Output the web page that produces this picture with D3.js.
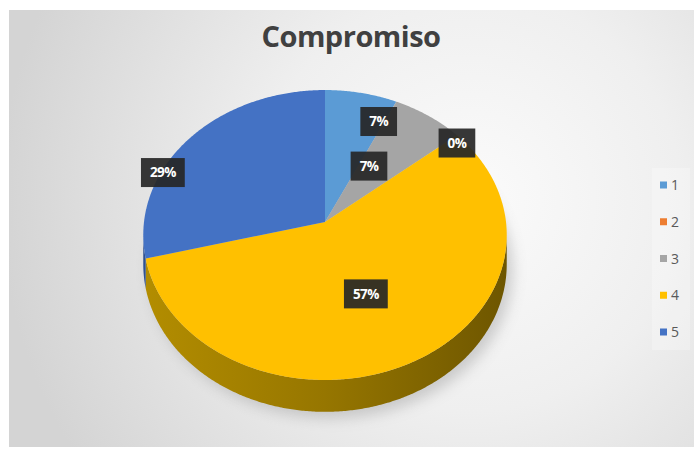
<!DOCTYPE html>
<html>
<head>
<meta charset="utf-8">
<script src="https://cdn.jsdelivr.net/npm/d3@7/dist/d3.min.js"></script>
<style>
  html, body { margin: 0; padding: 0; background: #ffffff; }
  svg { display: block; }
</style>
</head>
<body>
<svg id="chart" width="694" height="451"></svg>
<script>
// Survey answers for "Compromiso" (scale 1–5), as shares in percent
const categories = ["1", "2", "3", "4", "5"];
const values = [7, 0, 7, 57, 29];
const labels = ["7%", "0%", "7%", "57%", "29%"];
const colors = ["#5b9bd5", "#ed7d31", "#a5a5a5", "#ffc000", "#4472c4"];
const sideColors = ["#3f6f9c", "#b05a1e", "#7a7a7a", "#9a7700", "#2f5191"];

// Label placement: fraction of the radius, and angular nudge (degrees) from the slice middle
const labelRadius = [0.81, 0.96, 0.475, 0.525, 0.99];
const labelNudge = [10.4, 27.8, -5.8, 2.7, -16.8];

const svg = d3.select("#chart");
const W = 694, H = 451;
const defs = svg.append("defs");

// chart area background
const bg = defs.append("radialGradient").attr("id", "bg")
  .attr("gradientUnits", "userSpaceOnUse")
  .attr("cx", 470).attr("cy", 200).attr("r", 470);
bg.append("stop").attr("offset", "0%").attr("stop-color", "#fbfbfb");
bg.append("stop").attr("offset", "45%").attr("stop-color", "#efefef");
bg.append("stop").attr("offset", "100%").attr("stop-color", "#d4d4d4");

svg.append("rect").attr("x", 9).attr("y", 10).attr("width", W - 9).attr("height", 437)
  .attr("fill", "url(#bg)");

// title
svg.append("text")
  .attr("x", 351).attr("y", 47)
  .attr("text-anchor", "middle")
  .attr("font-family", "'Open Sans', sans-serif")
  .attr("font-weight", "700")
  .attr("font-size", 29)
  .attr("letter-spacing", -0.5)
  .attr("fill", "#404040")
  .text("Compromiso");

// tilted disc projection (slight perspective: near edge larger than far edge)
const cx = 325, cy = 222, R = 181, RY = 143.8, K = 0.0897, DEPTH = 29;
function proj(theta, r, drop) {
  const px = r * Math.sin(theta), pz = -r * Math.cos(theta);
  const s = 1 / (1 - K * pz);
  return [cx + R * px * s, cy + RY * pz * s + (drop || 0) * s];
}
function rimPoints(a0, a1, drop) {
  const n = Math.max(2, Math.ceil(Math.abs(a1 - a0) / (Math.PI / 360)));
  return d3.range(n + 1).map(i => proj(a0 + (a1 - a0) * i / n, 1, drop));
}
const line = d3.line();

const pie = d3.pie().sort(null).value(d => d)(values);

// drop shadow
const blur = defs.append("filter").attr("id", "soft").attr("x", "-20%").attr("y", "-20%")
  .attr("width", "140%").attr("height", "140%");
blur.append("feGaussianBlur").attr("stdDeviation", 7);
svg.append("path")
  .attr("d", line(rimPoints(0, 2 * Math.PI, DEPTH + 4)) + "Z")
  .attr("transform", "translate(6,2)")
  .attr("fill", "#9a9a9a").attr("opacity", 0.45)
  .attr("filter", "url(#soft)");

// side wall gradient for the front face
const sideGrad = defs.append("linearGradient").attr("id", "side")
  .attr("gradientUnits", "userSpaceOnUse")
  .attr("x1", cx - R).attr("x2", cx + R).attr("y1", 0).attr("y2", 0);
sideGrad.append("stop").attr("offset", "0%").attr("stop-color", "#b38d00");
sideGrad.append("stop").attr("offset", "50%").attr("stop-color", "#967600");
sideGrad.append("stop").attr("offset", "100%").attr("stop-color", "#6e5600");

// visible part of the wall lies between the horizontal extremes of the rim
const visStart = Math.acos(-K), visEnd = 2 * Math.PI - Math.acos(-K);
pie.forEach((d, i) => {
  if (d.value <= 0) return;
  const a0 = Math.max(d.startAngle, visStart), a1 = Math.min(d.endAngle, visEnd);
  if (a1 <= a0) return;
  const top = rimPoints(a0, a1, 0);
  const bottom = rimPoints(a1, a0, DEPTH);
  svg.append("path")
    .attr("d", line(top.concat(bottom)) + "Z")
    .attr("fill", i === 3 ? "url(#side)" : sideColors[i]);
});

// top faces
pie.forEach((d, i) => {
  if (d.value <= 0) return;
  const pts = [[cx, cy]].concat(rimPoints(d.startAngle, d.endAngle, 0));
  svg.append("path")
    .attr("d", line(pts) + "Z")
    .attr("fill", colors[i]);
});

// data labels
const lab = svg.append("g");
pie.forEach((d, i) => {
  const mid = (d.startAngle + d.endAngle) / 2 + labelNudge[i] * Math.PI / 180;
  const [x, y] = proj(mid, labelRadius[i], 0);
  const g = lab.append("g").attr("transform", `translate(${x},${y})`);
  const t = g.append("text")
    .attr("text-anchor", "middle").attr("dy", "0.36em")
    .attr("font-family", "'Open Sans', sans-serif")
    .attr("font-weight", "700").attr("font-size", 13.5)
    .attr("letter-spacing", -0.6)
    .attr("fill", "#ffffff")
    .text(labels[i]);
  const w = t.node().getComputedTextLength() + 18;
  g.insert("rect", "text")
    .attr("x", -w / 2).attr("y", -14.5).attr("width", w).attr("height", 29)
    .attr("fill", "#262626").attr("opacity", 0.92);
});

// legend
const legend = svg.append("g");
legend.append("rect").attr("x", 652).attr("y", 168).attr("width", 38).attr("height", 182)
  .attr("fill", "#ffffff").attr("opacity", 0.25);
const ly = d3.scalePoint().domain(categories).range([185, 332]);
categories.forEach((c, i) => {
  legend.append("rect")
    .attr("x", 660).attr("y", ly(c) - 3.5).attr("width", 7).attr("height", 7)
    .attr("fill", colors[i]);
  legend.append("text")
    .attr("x", 671).attr("y", ly(c)).attr("dy", "0.36em")
    .attr("font-family", "'Open Sans', sans-serif")
    .attr("font-size", 14).attr("fill", "#595959")
    .text(c);
});
</script>
</body>
</html>
